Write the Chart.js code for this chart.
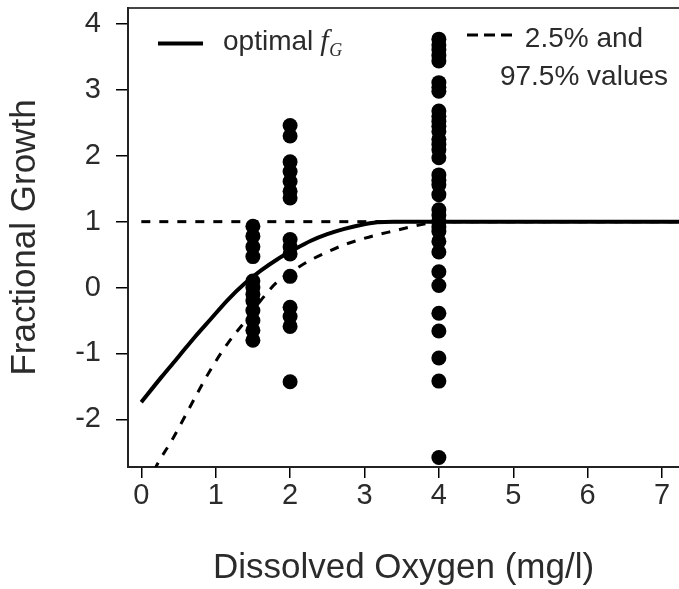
<!DOCTYPE html>
<html><head><meta charset="utf-8">
<script src="https://cdn.jsdelivr.net/npm/chart.js@4.4.1/dist/chart.umd.min.js"></script>
<style>html,body{margin:0;padding:0;background:#fff}#wrap{width:679px;height:589px}</style>
</head><body><div id="wrap"><canvas id="c" width="679" height="589"></canvas></div>
<script>
// ---- data ----
const xTicks = [0, 1, 2, 3, 4, 5, 6, 7];
const yTicks = [-2, -1, 0, 1, 2, 3, 4];

const growthAt15 = [0.93, 0.78, 0.62, 0.47, 0.10, 0.0, -0.10, -0.20, -0.35, -0.50, -0.65, -0.80];
const growthAt2  = [2.46, 2.30, 1.91, 1.76, 1.61, 1.46, 1.36, 0.73, 0.62, 0.51, 0.17, -0.30, -0.44, -0.59, -1.43];
const growthAt4  = [3.77, 3.68, 3.61, 3.52, 3.44, 3.11, 3.04, 2.98, 2.68, 2.60, 2.52, 2.45, 2.37, 2.25, 2.17, 2.09, 1.97,
                    1.71, 1.63, 1.56, 1.41, 1.18, 1.10, 1.00, 0.92, 0.85, 0.70, 0.54, 0.24, 0.03, -0.39, -0.66, -1.07, -1.42, -2.58];

const optimalX = [0, 0.27, 0.50, 0.72, 0.94, 1.16, 1.39, 1.61, 1.83, 2.06, 2.28, 2.50, 2.73, 2.95, 3.17, 3.40, 7.30];
const optimalY = [-1.74, -1.36, -1.05, -0.75, -0.47, -0.19, 0.06, 0.26, 0.43, 0.58, 0.71, 0.81, 0.89, 0.95, 0.99, 1.00, 1.00];

const lowerX = [0.17, 0.23, 0.41, 0.58, 0.76, 0.94, 1.16, 1.39, 1.61, 1.83, 2.06, 2.28, 2.50, 2.73, 2.95, 3.17, 3.40, 3.62, 3.84, 4.05, 7.30];
const lowerY = [-2.78, -2.65, -2.32, -1.97, -1.59, -1.23, -0.85, -0.52, -0.19, 0.09, 0.27, 0.42, 0.54, 0.65, 0.73, 0.80, 0.86, 0.92, 0.97, 1.00, 1.00];

const upperX = [0, 7.30];
const upperY = [1, 1];

// ---- build ----
const pts = (xs, ys) => xs.map((x, i) => ({x, y: ys[i]}));
const col = (x, ys) => ys.map(y => ({x, y}));
const FAM = '"Liberation Sans", Arial, Helvetica, sans-serif';
const TXT = '#2b2b2b';

const legendPlugin = {
  id: 'customLegend',
  afterDraw(chart) {
    const ctx = chart.ctx;
    ctx.save();
    ctx.strokeStyle = '#000';
    ctx.lineCap = 'butt';
    ctx.lineWidth = 4;
    ctx.beginPath(); ctx.moveTo(158, 43.5); ctx.lineTo(203, 43.5); ctx.stroke();
    ctx.fillStyle = TXT;
    ctx.textBaseline = 'alphabetic';
    ctx.textAlign = 'left';
    ctx.font = '28px ' + FAM;
    ctx.fillText('optimal', 223, 50);
    const w = ctx.measureText('optimal').width;
    ctx.font = 'italic 30px "Liberation Serif", "DejaVu Serif", serif';
    ctx.fillText('f', 223 + w + 7, 50);
    ctx.font = 'italic 18px "Liberation Serif", "DejaVu Serif", serif';
    ctx.fillText('G', 223 + w + 16, 56);
    ctx.lineWidth = 3;
    ctx.setLineDash([11, 6]);
    ctx.beginPath(); ctx.moveTo(467, 35); ctx.lineTo(512, 35); ctx.stroke();
    ctx.setLineDash([]);
    ctx.font = '28px ' + FAM;
    ctx.textAlign = 'center';
    ctx.fillText('2.5% and', 584, 47);
    ctx.fillText('97.5% values', 584, 85);
    ctx.restore();
  }
};

const XMIN = -0.179, XMAX = 7.228, YMIN = -2.724, YMAX = 4.243;
const noPadH = s => { s.paddingLeft = 0; s.paddingRight = 0; };
const noPadV = s => { s.paddingTop = 0; s.paddingBottom = 0; };

new Chart(document.getElementById('c'), {
  type: 'scatter',
  data: {
    datasets: [
      { type: 'scatter', data: col(1.5, growthAt15).concat(col(2, growthAt2), col(4, growthAt4)),
        pointRadius: 7.5, pointBackgroundColor: '#000', pointBorderWidth: 0, pointHoverRadius: 7.5 },
      { type: 'line', data: pts(optimalX, optimalY), borderColor: '#000', borderWidth: 4,
        pointRadius: 0, fill: false, cubicInterpolationMode: 'monotone' },
      { type: 'line', data: pts(lowerX, lowerY), borderColor: '#000', borderWidth: 3, borderDash: [9, 9],
        pointRadius: 0, fill: false, cubicInterpolationMode: 'monotone' },
      { type: 'line', data: pts(upperX, upperY), borderColor: '#000', borderWidth: 3, borderDash: [9, 9],
        pointRadius: 0, fill: false }
    ]
  },
  options: {
    responsive: false, animation: false,
    layout: { autoPadding: false, padding: { top: 8, right: 0, bottom: 0, left: 0 } },
    plugins: { legend: { display: false }, tooltip: { enabled: false } },
    scales: {
      x: {
        type: 'linear', position: 'bottom', min: XMIN, max: XMAX,
        afterBuildTicks: s => { s.ticks = xTicks.map(v => ({ value: v })); },
        afterFit: s => { s.height = 122; noPadH(s); },
        grid: { drawOnChartArea: false, drawTicks: true, tickLength: 11, color: '#000', lineWidth: 1.5 },
        border: { display: true, color: '#222', width: 2 },
        ticks: { font: { size: 29, family: FAM }, color: TXT, padding: 1, maxRotation: 0, autoSkip: false },
        title: { display: true, text: 'Dissolved Oxygen (mg/l)', font: { size: 35, family: FAM }, color: TXT,
                 padding: { top: 0, bottom: 0 } }
      },
      xTop: {
        type: 'linear', position: 'top', min: XMIN, max: XMAX,
        afterFit: s => { s.height = 0; noPadH(s); },
        ticks: { display: false },
        grid: { display: false },
        border: { display: true, color: '#444', width: 2 }
      },
      y: {
        type: 'linear', position: 'left', min: YMIN, max: YMAX,
        afterBuildTicks: s => { s.ticks = yTicks.map(v => ({ value: v })); },
        afterFit: s => { s.width = 128; noPadV(s); },
        grid: { drawOnChartArea: false, drawTicks: true, tickLength: 12, color: '#000', lineWidth: 1.5 },
        border: { display: true, color: '#222', width: 2 },
        ticks: { font: { size: 29, family: FAM }, color: TXT, padding: 15, autoSkip: false },
        title: { display: true, text: 'Fractional Growth', font: { size: 35, family: FAM }, color: TXT,
                 padding: { top: 4, bottom: 0 } }
      }
    }
  },
  plugins: [legendPlugin]
});
</script>
</body></html>
